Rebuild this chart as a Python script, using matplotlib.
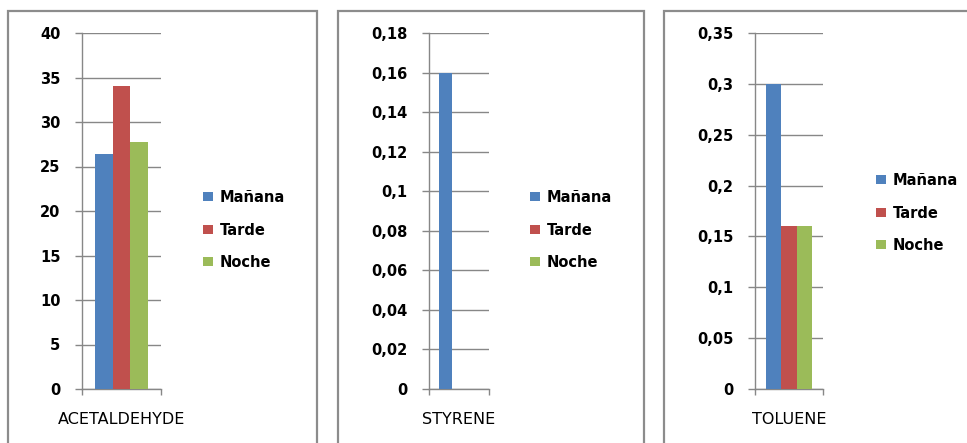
import matplotlib
matplotlib.use("Agg")
import matplotlib.pyplot as plt
from matplotlib.patches import Rectangle
from matplotlib.ticker import FuncFormatter

series = ["Mañana", "Tarde", "Noche"]
colors = ["#4F81BD", "#C0504D", "#9BBB59"]
compounds = ["ACETALDEHYDE", "STYRENE", "TOLUENE"]
acetaldehyde = [26.4, 34.1, 27.7]
styrene = [0.16, 0.0, 0.0]
toluene = [0.30, 0.16, 0.16]
values = [acetaldehyde, styrene, toluene]
ymaxes = [40, 0.18, 0.35]
ysteps = [5, 0.02, 0.05]

W, H = 967, 443
fig = plt.figure(figsize=(W / 100, H / 100), dpi=100)
fig.patch.set_facecolor("white")

# panel geometry (pixels)
boxes = [(8, 11, 317), (338, 11, 644), (664, 11, 975)]
axes_px = [(82, 161), (429, 489), (755, 823)]
legend_px = [(203, 230), (530, 230), (876, 213)]
ax_top, ax_bot = 33, 389

grid_col = "#878787"
box_col = "#8C8C8C"

for i in range(3):
    x0, y0, x1 = boxes[i]
    fig.patches.append(Rectangle((x0 / W, -0.1), (x1 - x0) / W, 1.1 - y0 / H,
                                 transform=fig.transFigure, fill=False,
                                 edgecolor=box_col, linewidth=1.6, zorder=0))
    l, r = axes_px[i]
    ax = fig.add_axes([l / W, (H - ax_bot) / H, (r - l) / W, (ax_bot - ax_top) / H])
    w = 1 / 4.5
    handles = []
    for j, s in enumerate(series):
        b = ax.bar(0.5 + (j - 1) * w, values[i][j], width=w, color=colors[j],
                   label=s, zorder=3)
        handles.append(b)
    ax.set_xlim(0, 1)
    ax.set_ylim(0, ymaxes[i])
    n = int(round(ymaxes[i] / ysteps[i]))
    ticks = [k * ysteps[i] for k in range(n + 1)]
    ax.set_yticks(ticks)

    def fmt(v, pos):
        s = ("%.2f" % v).rstrip("0").rstrip(".")
        if abs(v) < 1e-12:
            s = "0"
        return s.replace(".", ",")
    ax.yaxis.set_major_formatter(FuncFormatter(fmt))
    ax.grid(axis="y", color=grid_col, linewidth=1.0, zorder=0)
    ax.set_axisbelow(True)
    for sp in ["top", "right"]:
        ax.spines[sp].set_visible(False)
    ax.spines["left"].set_color(grid_col)
    ax.spines["bottom"].set_color(grid_col)
    ax.spines["left"].set_linewidth(1.0)
    ax.spines["bottom"].set_linewidth(1.0)
    ax.tick_params(axis="y", direction="out", length=5, width=1.0, color=grid_col,
                   pad=10.5, labelsize=10.5, labelcolor="black")
    for t in ax.get_yticklabels():
        t.set_fontweight("bold")
    ax.set_xticks([0.5])
    ax.set_xticklabels([compounds[i]], fontsize=11.5)
    ax.set_xticks([0, 1], minor=True)
    ax.tick_params(axis="x", which="major", length=0, pad=16.5)
    ax.tick_params(axis="x", which="minor", direction="out", length=4, width=1.0,
                   color=grid_col)
    lx, ly = legend_px[i]
    fig.legend(handles=handles, labels=series, loc="center left",
               bbox_to_anchor=(lx / W, 1 - ly / H), bbox_transform=fig.transFigure,
               frameon=False, borderpad=0, borderaxespad=0,
               handlelength=0.7, handleheight=0.6, handletextpad=0.45,
               labelspacing=1.2, prop={"size": 10.5, "weight": "bold"})

fig.savefig("out.png", dpi=100, facecolor="white")
